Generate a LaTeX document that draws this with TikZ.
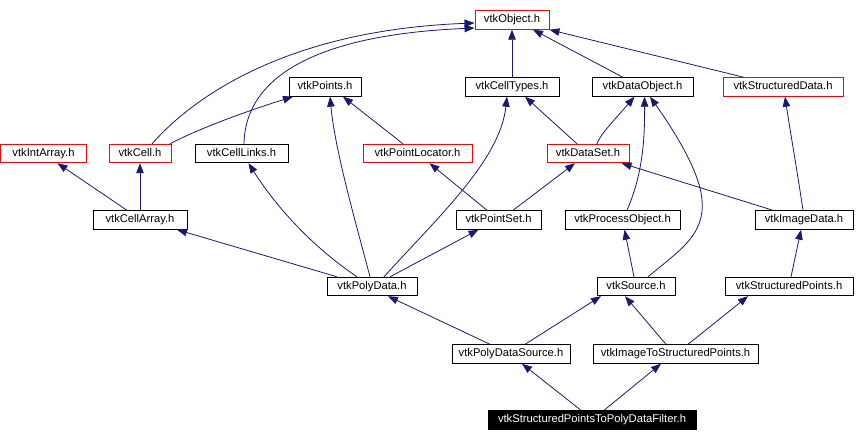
\documentclass[tikz,border=0pt]{standalone}
\usepackage{fontspec}
\setmainfont{Liberation Sans}
\usetikzlibrary{arrows.meta}
\definecolor{edgecol}{HTML}{191970}
\definecolor{redb}{HTML}{FF0000}
\begin{document}
\begin{tikzpicture}[x=1pt,y=-1pt,
 box/.style={draw=black,line width=0.9pt,inner sep=0pt,minimum height=18.5pt,text height=8pt,text depth=2.5pt,font=\fontsize{11.2}{13}\selectfont,fill=white},
 redbox/.style={box,draw=redb},
 dep/.style={draw=edgecol,line width=0.8pt,-{Triangle[length=10pt,width=7.5pt]}}]
\useasboundingbox (0,0) rectangle (856,442);
% row 1
\node[redbox,minimum width=74pt] (obj) at (512,20) {vtkObject.h};
% row 2
\node[box,minimum width=72pt] (points) at (325,87) {vtkPoints.h};
\node[box,minimum width=94pt] (celltypes) at (512,87) {vtkCellTypes.h};
\node[box,minimum width=101pt] (dataobj) at (642.5,87) {vtkDataObject.h};
\node[redbox,minimum width=120pt] (structdata) at (783,87) {vtkStructuredData.h};
% row 3
\node[redbox,minimum width=86pt] (intarray) at (43.5,153.5) {vtkIntArray.h};
\node[redbox,minimum width=62pt] (cell) at (140,153.5) {vtkCell.h};
\node[box,minimum width=93pt] (celllinks) at (241.5,153.5) {vtkCellLinks.h};
\node[redbox,minimum width=109pt] (pointlocator) at (417.5,153.5) {vtkPointLocator.h};
\node[redbox,minimum width=82pt] (dataset) at (588,153.5) {vtkDataSet.h};
% row 4
\node[box,minimum width=94pt] (cellarray) at (140,220) {vtkCellArray.h};
\node[box,minimum width=85pt] (pointset) at (498.5,220) {vtkPointSet.h};
\node[box,minimum width=115pt] (processobj) at (622.5,220) {vtkProcessObject.h};
\node[box,minimum width=98pt] (imagedata) at (804,220) {vtkImageData.h};
% row 5
\node[box,minimum width=90pt] (polydata) at (372,286.5) {vtkPolyData.h};
\node[box,minimum width=78pt] (source) at (636,286.5) {vtkSource.h};
\node[box,minimum width=128pt] (structpoints) at (789,286.5) {vtkStructuredPoints.h};
% row 6
\node[box,minimum width=118pt] (polydatasource) at (511,354) {vtkPolyDataSource.h};
\node[box,minimum width=165pt] (imgtosp) at (675.5,354) {vtkImageToStructuredPoints.h};
% row 7
\node[box,fill=black,text=white,minimum width=208pt] (filter) at (592,420) {vtkStructuredPointsToPolyDataFilter.h};

% edges
\draw[dep] ([xshift=12pt]cell.north) .. controls (195,95) and (290,30) .. ([yshift=-3pt]obj.west);
\draw[dep] ([xshift=2.5pt]celllinks.north) .. controls (245,80) and (310,35) .. ([yshift=-8pt]obj.west);
\draw[dep] ([xshift=30pt]cell.north) .. controls (200,128) and (250,110) .. ([xshift=-32pt]points.south);
\draw[dep] ([xshift=-14.5pt]pointlocator.north) -- ([xshift=18pt]points.south);
\draw[dep] ([xshift=-2pt]polydata.north) .. controls (355,220) and (335,150) .. ([xshift=5pt]points.south);
\draw[dep] (celltypes.north) -- (obj.south);
\draw[dep] ([xshift=-19.5pt]dataobj.north) -- ([xshift=21pt]obj.south);
\draw[dep] ([xshift=-39pt]structdata.north) -- (obj.south east);
\draw[dep] ([xshift=-11pt]dataset.north) -- ([xshift=13pt]celltypes.south);
\draw[dep] ([xshift=9pt]dataset.north) .. controls (600,135) and (610,125) .. ([xshift=-8pt]dataobj.south);
\draw[dep] ([xshift=4.5pt]processobj.north) .. controls (640,180) and (645,150) .. ([xshift=2pt]dataobj.south);
\draw[dep] ([xshift=12pt]source.north) .. controls (680,250) and (705,235) .. (702,200) .. controls (700,170) and (670,125) .. ([xshift=7.5pt]dataobj.south);
\draw[dep] ([xshift=12pt]polydata.north) .. controls (440,215) and (500,160) .. ([xshift=-5pt]celltypes.south);
\draw[dep] ([xshift=-31pt]imagedata.north) -- ([xshift=33.5pt]dataset.south);
\draw[dep] ([xshift=-1pt]imagedata.north) .. controls (797,170) and (790,130) .. ([xshift=2pt]structdata.south);
\draw[dep] ([xshift=-13pt]cellarray.north) -- ([xshift=14pt]intarray.south);
\draw[dep] (cellarray.north) -- (cell.south);
\draw[dep] ([xshift=-15pt]polydata.north) .. controls (310,245) and (275,205) .. ([xshift=7pt]celllinks.south);
\draw[dep] ([xshift=-35pt]polydata.north) -- ([xshift=37pt]cellarray.south);
\draw[dep] ([xshift=-11.5pt]pointset.north) -- ([xshift=12pt]pointlocator.south);
\draw[dep] ([xshift=14.5pt]pointset.north) -- ([xshift=-13pt]dataset.south);
\draw[dep] ([xshift=18pt]polydata.north) -- ([xshift=-20pt]pointset.south);
\draw[dep] ([xshift=-2pt]source.north) -- ([xshift=2pt]processobj.south);
\draw[dep] ([xshift=2pt]structpoints.north) -- ([xshift=-3pt]imagedata.south);
\draw[dep] ([xshift=-21pt]polydatasource.north) -- ([xshift=16pt]polydata.south);
\draw[dep] ([xshift=14pt]polydatasource.north) -- ([xshift=-35pt]source.south);
\draw[dep] ([xshift=-9.5pt]imgtosp.north) -- ([xshift=-11pt]source.south);
\draw[dep] ([xshift=12.5pt]imgtosp.north) -- ([xshift=-41pt]structpoints.south);
\draw[dep] ([xshift=-11pt]filter.north) -- ([xshift=11pt]polydatasource.south);
\draw[dep] ([xshift=12pt]filter.north) -- ([xshift=-14.5pt]imgtosp.south);
\end{tikzpicture}
\end{document}
